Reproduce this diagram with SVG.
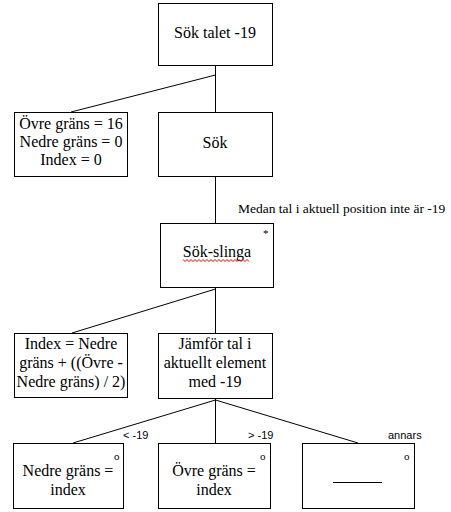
<svg xmlns="http://www.w3.org/2000/svg" width="451" height="512" viewBox="0 0 451 512">
<style>
rect.box{fill:#fff;stroke:#000;stroke-width:1}
.t{font-family:'Liberation Serif','Times New Roman',Tinos,'DejaVu Serif',serif;font-size:16px;fill:#000;text-anchor:middle}
.m{font-family:'Liberation Serif','Times New Roman',Tinos,'DejaVu Serif',serif;font-size:11px;fill:#000}
.lab{font-family:'Liberation Sans',Arial,sans-serif;font-size:11px;fill:#000}
.cond{font-family:'Liberation Serif','Times New Roman',Tinos,'DejaVu Serif',serif;font-size:13.5px;fill:#000}
#connectors line{stroke:#000;stroke-width:1}
</style>
<rect width="451" height="512" fill="#fff"/>
<g id="connectors">
<line x1="215.5" y1="65" x2="215.5" y2="112"/>
<line x1="215.5" y1="75" x2="71" y2="112"/>
<line x1="215.5" y1="177" x2="215.5" y2="223"/>
<line x1="215.5" y1="288" x2="215.5" y2="333"/>
<line x1="215.5" y1="289" x2="72" y2="333"/>
<line x1="215.5" y1="399" x2="215.5" y2="443"/>
<line x1="215.5" y1="400" x2="73" y2="443"/>
<line x1="215.5" y1="400" x2="358" y2="443"/>
</g>
<text class="cond" x="238" y="213">Medan tal i aktuell position inte är -19</text>
<text class="lab" x="123" y="439">&lt; -19</text>
<text class="lab" x="248" y="439">&gt; -19</text>
<text class="lab" x="388" y="439">annars</text>
<g id="n1">
<rect class="box" x="158.5" y="3.5" width="114" height="62"/>
<text class="t" x="215" y="38">Sök talet -19</text>
</g>
<g id="n2">
<rect class="box" x="14.5" y="112.5" width="113" height="64"/>
<text class="t" x="71" y="129">Övre gräns = 16</text>
<text class="t" x="71" y="147">Nedre gräns = 0</text>
<text class="t" x="71" y="165">Index = 0</text>
</g>
<g id="n3">
<rect class="box" x="158.5" y="112.5" width="114" height="64"/>
<text class="t" x="215" y="148">Sök</text>
</g>
<g id="n4">
<rect class="box" x="160.5" y="223.5" width="113" height="64"/>
<text class="t" x="217" y="257">Sök-slinga</text>
<polyline points="183,259.5 185,261.5 187,259.5 189,261.5 191,259.5 193,261.5 195,259.5 197,261.5 199,259.5 201,261.5 203,259.5 205,261.5 207,259.5 209,261.5 211,259.5 213,261.5 215,259.5 217,261.5 219,259.5 221,261.5 223,259.5 225,261.5 227,259.5 229,261.5 231,259.5 233,261.5 235,259.5 237,261.5 239,259.5 241,261.5 243,259.5 245,261.5 247,259.5 249,261.5" fill="none" stroke="#e00000" stroke-width="1"/>
<text class="m" x="263" y="237">*</text>
</g>
<g id="n5">
<rect class="box" x="14.5" y="333.5" width="113" height="64"/>
<text class="t" x="71" y="349">Index = Nedre</text>
<text class="t" x="71" y="368">gräns + ((Övre -</text>
<text class="t" x="71" y="387">Nedre gräns) / 2)</text>
</g>
<g id="n6">
<rect class="box" x="158.5" y="333.5" width="114" height="65"/>
<text class="t" x="215" y="349">Jämför tal i</text>
<text class="t" x="215" y="368">aktuellt element</text>
<text class="t" x="215" y="387">med -19</text>
</g>
<g id="n7">
<rect class="box" x="13.5" y="443.5" width="110" height="65"/>
<text class="m" x="114" y="460">o</text>
<text class="t" x="68" y="476">Nedre gräns =</text>
<text class="t" x="68" y="495">index</text>
</g>
<g id="n8">
<rect class="box" x="158.5" y="443.5" width="112" height="65"/>
<text class="m" x="260" y="460">o</text>
<text class="t" x="214" y="476">Övre gräns =</text>
<text class="t" x="214" y="495">index</text>
</g>
<g id="n9">
<rect class="box" x="302.5" y="443.5" width="112" height="65"/>
<text class="m" x="404" y="460">o</text>
<line x1="333" y1="482.5" x2="382" y2="482.5" stroke="#000" stroke-width="1"/>
</g>
</svg>
